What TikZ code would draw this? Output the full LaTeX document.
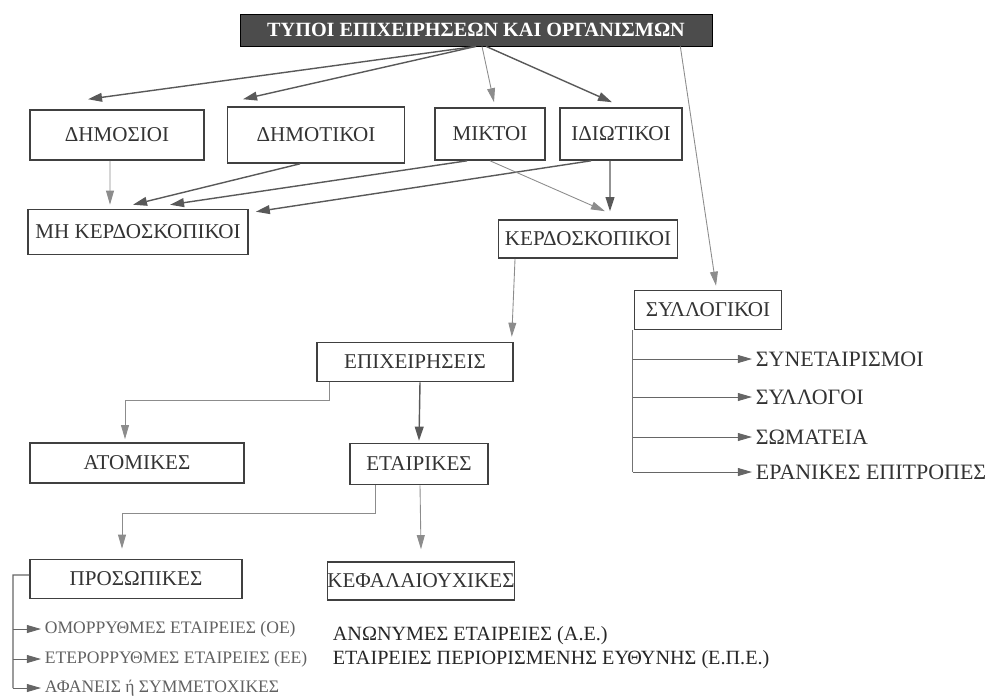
\documentclass[tikz,border=0pt]{standalone}
\usepackage{fontspec}
\setmainfont{Liberation Serif}
\usetikzlibrary{arrows.meta, positioning, calc}

\tikzset{
  box/.style={draw=black!75, line width=0.9pt, text=black!80, font=\fontsize{12}{14}\selectfont, inner sep=0pt},
  arr/.style={draw=black!65, line width=0.8pt, -{Triangle[length=8pt,width=5pt]}},
  thinarr/.style={draw=black!45, line width=0.5pt, -{Triangle[length=8pt,width=4.5pt]}},
  lbl/.style={text=black!80, font=\fontsize{12.5}{14}\selectfont, anchor=west, inner sep=2pt},
  small/.style={text=black!62, font=\fontsize{10}{12}\selectfont, anchor=west, inner sep=2pt},
}

\begin{document}
\begin{tikzpicture}[x=0.02cm, y=-0.02cm]
\useasboundingbox (0,0) rectangle (987,698);

% title bar
\node[draw=black, fill=black!70, text=white, font=\bfseries\fontsize{11.5}{13}\selectfont,
      minimum width=9.44cm, minimum height=0.64cm, inner sep=0pt] (title) at (476,30)
      {ΤΥΠΟΙ ΕΠΙΧΕΙΡΗΣΕΩΝ ΚΑΙ ΟΡΓΑΝΙΣΜΩΝ};

% first row
\node[box, minimum width=3.48cm, minimum height=1cm]   (dimosioi)  at (117,135) {ΔΗΜΟΣΙΟΙ};
\node[box, minimum width=3.54cm, minimum height=1.12cm] (dimotikoi) at (316,135) {ΔΗΜΟΤΙΚΟΙ};
\node[box, minimum width=2.2cm,  minimum height=1.04cm] (miktoi)    at (490,134) {ΜΙΚΤΟΙ};
\node[box, minimum width=2.44cm, minimum height=1.04cm] (idiotikoi) at (621,134) {ΙΔΙΩΤΙΚΟΙ};

% second row
\node[box, minimum width=4.4cm,  minimum height=0.9cm]  (mikerd) at (138,232) {ΜΗ ΚΕΡΔΟΣΚΟΠΙΚΟΙ};
\node[box, minimum width=3.58cm, minimum height=0.76cm] (kerd)   at (588,239) {ΚΕΡΔΟΣΚΟΠΙΚΟΙ};
\node[box, minimum width=2.94cm, minimum height=0.78cm] (syllog) at (708,310) {ΣΥΛΛΟΓΙΚΟΙ};

% firms
\node[box, minimum width=3.92cm, minimum height=0.78cm] (epix)      at (415,362) {ΕΠΙΧΕΙΡΗΣΕΙΣ};
\node[box, minimum width=4.28cm, minimum height=0.8cm]  (atomikes)  at (137,463) {ΑΤΟΜΙΚΕΣ};
\node[box, minimum width=2.76cm, minimum height=0.82cm] (etairikes) at (419,464) {ΕΤΑΙΡΙΚΕΣ};
\node[box, minimum width=4.24cm, minimum height=0.78cm] (prosopikes) at (136,579) {ΠΡΟΣΩΠΙΚΕΣ};
\node[box, minimum width=3.64cm, minimum height=0.76cm] (kefal)     at (421,581) {ΚΕΦΑΛΑΙΟΥΧΙΚΕΣ};

% collective bodies list
\node[lbl] (synet)  at (752,359) {ΣΥΝΕΤΑΙΡΙΣΜΟΙ};
\node[lbl] (syllg)  at (752,397) {ΣΥΛΛΟΓΟΙ};
\node[lbl] (somat)  at (752,437) {ΣΩΜΑΤΕΙΑ};
\node[lbl] (eran)   at (752,472) {ΕΡΑΝΙΚΕΣ ΕΠΙΤΡΟΠΕΣ};

% personal companies list
\node[small] (oe)   at (41,629) {ΟΜΟΡΡΥΘΜΕΣ ΕΤΑΙΡΕΙΕΣ (ΟΕ)};
\node[small] (ee)   at (41,659) {ΕΤΕΡΟΡΡΥΘΜΕΣ ΕΤΑΙΡΕΙΕΣ (ΕΕ)};
\node[small] (afan) at (41,688) {ΑΦΑΝΕΙΣ ή ΣΥΜΜΕΤΟΧΙΚΕΣ};

% capital companies list
\node[lbl, text=black!85, font=\fontsize{11.5}{13}\selectfont] (ae)  at (329,636) {ΑΝΩΝΥΜΕΣ ΕΤΑΙΡΕΙΕΣ (Α.Ε.)};
\node[lbl, text=black!85, font=\fontsize{11.5}{13}\selectfont] (epe) at (329,660) {ΕΤΑΙΡΕΙΕΣ ΠΕΡΙΟΡΙΣΜΕΝΗΣ ΕΥΘΥΝΗΣ (Ε.Π.Ε.)};

% from the title
\draw[arr] (title.south) -- ([shift={(-29,-10)}]dimosioi.north);
\draw[arr] (title.south) -- ([shift={(-73,-7)}]dimotikoi.north);
\draw[thinarr] ([xshift=0.12cm]title.south) -- ([shift={(4,-5)}]miktoi.north);
\draw[arr] ([xshift=0.2cm]title.south) -- ([shift={(-9,-5)}]idiotikoi.north);
\draw[thinarr] ([xshift=-0.64cm]title.south east) -- ([shift={(8,-4)}]syllog.north);

% to non profit / profit
\draw[thinarr] ([xshift=-0.14cm]dimosioi.south) -- ([shift={(-28,-4)}]mikerd.north);
\draw[arr] ([xshift=-0.32cm]dimotikoi.south) -- ([shift={(-5,-4)}]mikerd.north);
\draw[arr] ([xshift=-0.46cm]miktoi.south) -- ([shift={(32,-4)}]mikerd.north);
\draw[arr] ([xshift=-0.6cm]idiotikoi.south) -- ([shift={(7,3)}]mikerd.north east);
\draw[thinarr] (miktoi.south) -- ([shift={(17,-8)}]kerd.north);
\draw[arr] ([xshift=-0.22cm]idiotikoi.south) -- ([shift={(22,-8)}]kerd.north);
\draw[thinarr] ([xshift=-1.46cm]kerd.south) -- ([shift={(-2,-5)}]epix.north east);

% firms tree
\draw[thinarr] ([xshift=0.26cm]epix.south west) -- ++(0,18) -| ([shift={(-12,-3)}]atomikes.north);
\draw[arr] ([xshift=0.1cm]epix.south) -- ([yshift=0.04cm]etairikes.north);
\draw[thinarr] ([xshift=-0.88cm]etairikes.south) -- ++(0,28) -| ([shift={(-14,-10)}]prosopikes.north);
\draw[thinarr] ([xshift=0.02cm]etairikes.south) -- ([shift={(0,-12)}]kefal.north);

% personal companies branches
\coordinate (pbar) at (13,575);
\draw[draw=black!60, line width=0.6pt] ([yshift=0.08cm]prosopikes.west) -- (pbar) -- (pbar |- afan.west);
\foreach \n in {oe, ee, afan}
  \draw[thinarr, draw=black!60] (pbar |- \n.west) -- (\n.west);

% collective bodies branches
\coordinate (sbar) at ([xshift=-0.02cm]syllog.south west);
\draw[draw=black!55, line width=0.6pt] (sbar) -- (sbar |- eran.west);
\foreach \n in {synet, syllg, somat, eran}
  \draw[thinarr, draw=black!60] (sbar |- \n.west) -- (\n.west);
\end{tikzpicture}
\end{document}
